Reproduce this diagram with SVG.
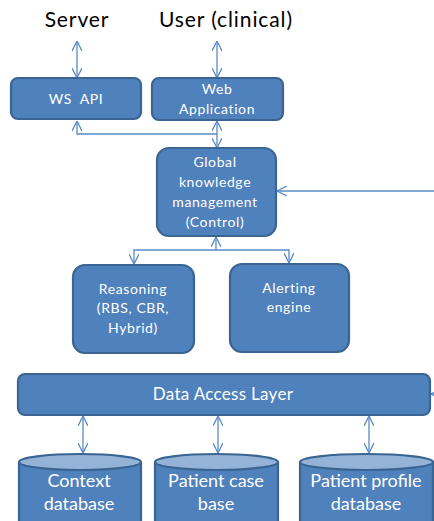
<svg xmlns="http://www.w3.org/2000/svg" width="434" height="521" viewBox="0 0 434 521">
  <style>
    .box { fill: #4F81BD; stroke: #3A6491; stroke-width: 2.2; }
    .top { fill: #95B3D7; stroke: #3A6491; stroke-width: 2.2; }
    .lbl { font-family: Lato, "Liberation Sans", sans-serif; fill: #ffffff; text-anchor: middle; }
    .s { font-size: 14px; letter-spacing: 0.6px; }
    .m { font-size: 17px; letter-spacing: 0.3px; }
    .l { font-size: 18px; }
    .head { font-family: Lato, "Liberation Sans", sans-serif; font-size: 21px; letter-spacing: 0.9px; fill: #000; text-anchor: middle; }
    .wire { fill: none; stroke: #5A8AC6; stroke-width: 1.3; }
  </style>
  <defs>
    <marker id="tip" viewBox="0 0 10 10" refX="10" refY="5" markerWidth="10" markerHeight="10" markerUnits="userSpaceOnUse" orient="auto-start-reverse">
      <path d="M0,0 L10,5 L0,10" fill="none" stroke="#5A8AC6" stroke-width="1.3"/>
    </marker>
  </defs>
  <rect width="434" height="521" fill="#ffffff"/>

  <text class="head" x="77" y="27">Server</text>
  <text class="head" x="226" y="27">User (clinical)</text>

  <g id="connectors">
    <path class="wire" d="M77,41 L77,78" marker-start="url(#tip)" marker-end="url(#tip)"/>
    <path class="wire" d="M217,41 L217,78" marker-start="url(#tip)" marker-end="url(#tip)"/>
    <path class="wire" d="M217,121 L217,148" marker-start="url(#tip)" marker-end="url(#tip)"/>
    <path class="wire" d="M77,121 L77,134 L217,134" marker-start="url(#tip)"/>
    <path class="wire" d="M434,191 L277,191" marker-end="url(#tip)"/>
    <path class="wire" d="M216,250 L216,237" marker-end="url(#tip)"/>
    <path class="wire" d="M134,264 L134,250 L289,250 L289,263" marker-start="url(#tip)" marker-end="url(#tip)"/>
    <path class="wire" d="M440,394 L431,394" marker-end="url(#tip)"/>
    <path class="wire" d="M83,416 L83,453" marker-start="url(#tip)" marker-end="url(#tip)"/>
    <path class="wire" d="M218,416 L218,453" marker-start="url(#tip)" marker-end="url(#tip)"/>
    <path class="wire" d="M369,416 L369,453" marker-start="url(#tip)" marker-end="url(#tip)"/>
  </g>

  <g id="ws-api">
    <rect class="box" x="11" y="78" width="130" height="41" rx="7"/>
    <text class="lbl s" x="76" y="104" xml:space="preserve">WS  API</text>
  </g>

  <g id="web-application">
    <rect class="box" x="152" y="78" width="131" height="42" rx="7"/>
    <text class="lbl s" x="217" y="94">Web</text>
    <text class="lbl s" x="217" y="114">Application</text>
  </g>

  <g id="global-knowledge">
    <rect class="box" x="157" y="148" width="119" height="88" rx="12"/>
    <text class="lbl s" x="215" y="167">Global</text>
    <text class="lbl s" x="215" y="187">knowledge</text>
    <text class="lbl s" x="215" y="207">management</text>
    <text class="lbl s" x="215" y="227">(Control)</text>
  </g>

  <g id="reasoning">
    <rect class="box" x="73" y="265" width="121" height="88" rx="12"/>
    <text class="lbl s" x="133" y="294">Reasoning</text>
    <text class="lbl s" x="133" y="313">(RBS, CBR,</text>
    <text class="lbl s" x="133" y="333">Hybrid)</text>
  </g>

  <g id="alerting-engine">
    <rect class="box" x="230" y="264" width="119" height="88" rx="12"/>
    <text class="lbl s" x="289" y="293">Alerting</text>
    <text class="lbl s" x="289" y="312">engine</text>
  </g>

  <g id="data-access-layer">
    <rect class="box" x="18" y="374" width="412" height="41" rx="7"/>
    <text class="lbl m" x="223" y="400">Data Access Layer</text>
  </g>

  <g id="context-database">
    <path class="box" d="M19,462 L19,530 L141,530 L141,462"/>
    <ellipse class="top" cx="80" cy="462" rx="61" ry="8"/>
    <text class="lbl l" x="79" y="487">Context</text>
    <text class="lbl l" x="79" y="510">database</text>
  </g>

  <g id="patient-case-base">
    <path class="box" d="M155,462 L155,530 L278,530 L278,462"/>
    <ellipse class="top" cx="216.5" cy="462" rx="61.5" ry="8"/>
    <text class="lbl l" x="216" y="487">Patient case</text>
    <text class="lbl l" x="216" y="510">base</text>
  </g>

  <g id="patient-profile-database">
    <path class="box" d="M300,462 L300,530 L433,530 L433,462"/>
    <ellipse class="top" cx="366.5" cy="462" rx="66.5" ry="8"/>
    <text class="lbl l" x="366" y="487">Patient profile</text>
    <text class="lbl l" x="366" y="510">database</text>
  </g>
</svg>
